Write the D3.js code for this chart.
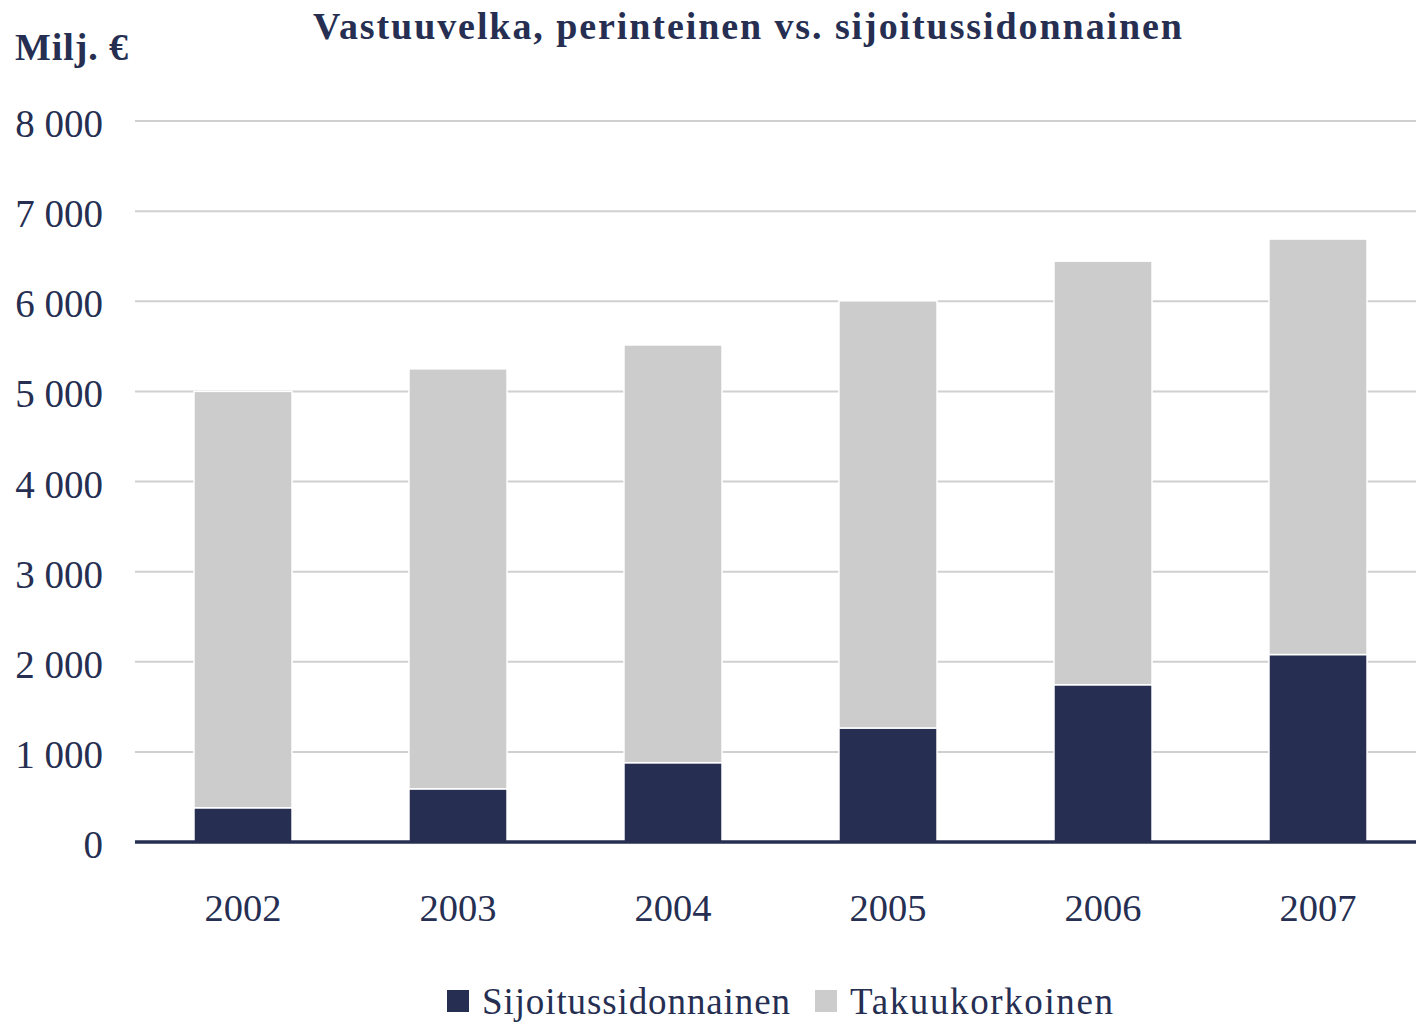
<!DOCTYPE html>
<html>
<head>
<meta charset="utf-8">
<script src="https://cdn.jsdelivr.net/npm/d3@7"></script>
<style>
  body { margin: 0; background: #fff; }
  text { font-family: "Liberation Serif", "DejaVu Serif", serif; fill: #262f52; }
</style>
</head>
<body>
<div id="chart"></div>
<script>
// chart data
var years = ['2002', '2003', '2004', '2005', '2006', '2007'];
var sijoitus = [380, 590, 880, 1265, 1745, 2080];
var takuu = [4620, 4660, 4635, 4740, 4700, 4610];
var seriesNames = ['Sijoitussidonnainen', 'Takuukorkoinen'];
var yTicks = [0, 1000, 2000, 3000, 4000, 5000, 6000, 7000, 8000];

var svgWidth = 1416;
var svgHeight = 1022;
var colors = ['#262f52', '#cccccc'];

var svg = d3.select('#chart').append('svg')
	.attr('width', svgWidth)
	.attr('height', svgHeight);

// scales
var x = d3.scaleBand()
	.domain(years)
	.range([135.5, 1425.5])
	.paddingInner(0.544)
	.paddingOuter(0.272);
var y = d3.scaleLinear()
	.domain([0, 8000])
	.range([842, 121]);

// gridlines
svg.append('g')
	.selectAll('line')
	.data(yTicks.slice(1))
	.enter()
	.append('line')
	.attr('x1', 135)
	.attr('x2', svgWidth)
	.attr('y1', d => y(d))
	.attr('y2', d => y(d))
	.attr('stroke', '#d0d0d0')
	.attr('stroke-width', 2);

// y tick labels
var fmt = d => d3.format(',')(d).replace(/,/g, ' ');
svg.append('g')
	.selectAll('text')
	.data(yTicks)
	.enter()
	.append('text')
	.attr('x', 103)
	.attr('y', d => y(d) + 16)
	.attr('text-anchor', 'end')
	.attr('font-size', '39px')
	.text(fmt);

// stacked bars
var rows = years.map((yr, i) => ({ year: yr, s: sijoitus[i], t: takuu[i] }));
var stack = d3.stack().keys(['s', 't'])(rows);

svg.append('g')
	.selectAll('g')
	.data(stack)
	.enter()
	.append('g')
	.attr('fill', (d, i) => colors[i])
	.selectAll('rect')
	.data(d => d)
	.enter()
	.append('rect')
	.attr('x', d => x(d.data.year))
	.attr('y', d => y(d[1]))
	.attr('width', x.bandwidth())
	.attr('height', d => y(d[0]) - y(d[1]))
	.attr('stroke', '#fff')
	.attr('stroke-width', 1.5);

// x axis line
svg.append('line')
	.attr('x1', 135)
	.attr('x2', svgWidth)
	.attr('y1', y(0))
	.attr('y2', y(0))
	.attr('stroke', '#262f52')
	.attr('stroke-width', 3.5);

// x labels
svg.append('g')
	.selectAll('text')
	.data(years)
	.enter()
	.append('text')
	.attr('x', d => x(d) + x.bandwidth() / 2)
	.attr('y', 921)
	.attr('text-anchor', 'middle')
	.attr('font-size', '38.5px')
	.text(d => d);

// title and unit
svg.append('text')
	.attr('x', 313)
	.attr('y', 39)
	.attr('font-size', '38px')
	.attr('font-weight', 'bold')
	.attr('textLength', 869)
	.attr('lengthAdjust', 'spacing')
	.text('Vastuuvelka, perinteinen vs. sijoitussidonnainen');

svg.append('text')
	.attr('x', 15)
	.attr('y', 60)
	.attr('font-size', '38px')
	.attr('font-weight', 'bold')
	.attr('textLength', 113)
	.attr('lengthAdjust', 'spacing')
	.text('Milj. €');

// legend
var legendX = [447, 815];
var legendW = [308, 263];
var legend = svg.append('g');
seriesNames.forEach(function(name, i) {
	legend.append('rect')
		.attr('x', legendX[i])
		.attr('y', 990)
		.attr('width', 22)
		.attr('height', 22)
		.attr('fill', colors[i]);
	legend.append('text')
		.attr('x', legendX[i] + 35)
		.attr('y', 1014)
		.attr('font-size', '37px')
		.attr('textLength', legendW[i])
		.attr('lengthAdjust', 'spacing')
		.text(name);
});
</script>
</body>
</html>
